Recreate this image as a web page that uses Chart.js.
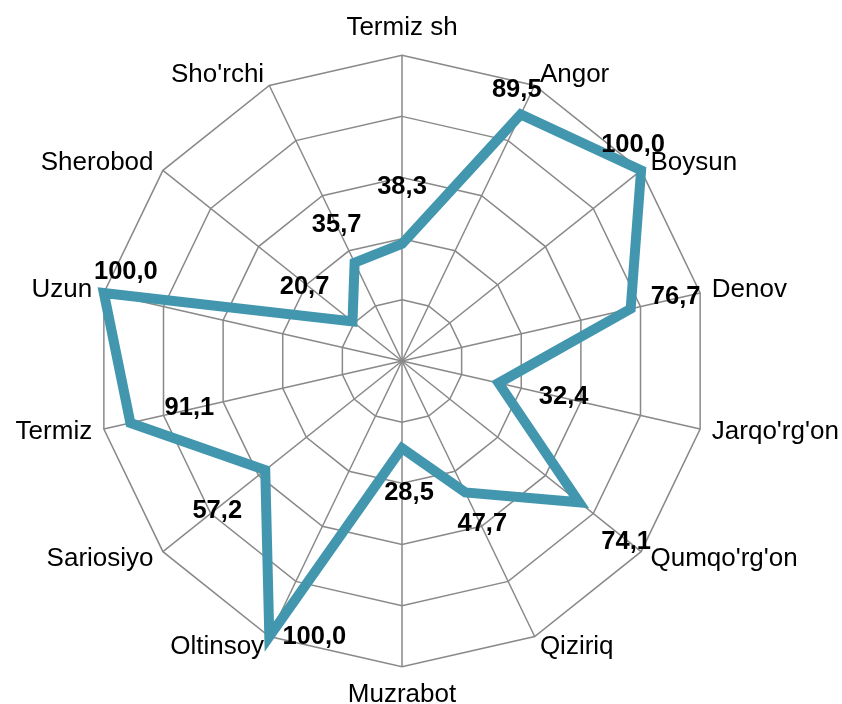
<!DOCTYPE html>
<html>
<head>
<meta charset="utf-8">
<script src="https://cdn.jsdelivr.net/npm/chart.js@4/dist/chart.umd.min.js"></script>
<style>
  html, body { margin: 0; padding: 0; background: #fff; overflow: hidden; }
  #wrap { width: 842px; height: 704px; position: relative; overflow: hidden; }
  /* the web sits left of the middle in the original, so the canvas is a bit wider and shifted */
  #inner { position: absolute; left: -19px; top: 2px; width: 882px; height: 709px; }
</style>
</head>
<body>
<div id="wrap"><div id="inner"><canvas id="myChart"></canvas></div></div>
<script>
// districts, clockwise from the top
const districts = ["Termiz sh", "Angor", "Boysun", "Denov", "Jarqo'rg'on", "Qumqo'rg'on", "Qiziriq",
    "Muzrabot", "Oltinsoy", "Sariosiyo", "Termiz", "Uzun", "Sherobod", "Sho'rchi"];
const scores = [38.3, 89.5, 100.0, 76.7, 32.4, 74.1, 47.7, 28.5, 100.0, 57.2, 91.1, 100.0, 20.7, 35.7];
const gridSteps = [0, 20, 40, 60, 80, 100];

// where each value label sits relative to its point (px)
const labelShift = [[0, -57], [-4, -24], [-8, -25], [45, -12], [65, 14], [47, 40], [17, 32],
    [7, 45], [45, 0], [-48, 41], [59, -15], [22, -21], [-48, -35], [-18, -38]];

const FONT = "'Liberation Sans', Arial, sans-serif";
Chart.defaults.font.family = FONT;
Chart.defaults.color = '#000';

// value labels drawn next to the points
const valueLabels = {
    id: 'valueLabels',
    afterDatasetsDraw(chart) {
        const ctx = chart.ctx;
        const meta = chart.getDatasetMeta(0);
        ctx.save();
        ctx.font = 'bold 25.5px ' + FONT;
        ctx.fillStyle = '#000';
        ctx.textAlign = 'center';
        ctx.textBaseline = 'middle';
        meta.data.forEach(function (pt, i) {
            const txt = scores[i].toFixed(1).replace('.', ',');
            ctx.fillText(txt, pt.x + labelShift[i][0], pt.y + labelShift[i][1]);
        });
        ctx.restore();
    }
};

// category names: centred on the spoke ends like Excel does it
// (chart.js' own labels stay invisible, they only reserve the room)
const spokeLabels = {
    id: 'spokeLabels',
    afterDraw(chart) {
        const scale = chart.scales.r;
        const ctx = chart.ctx;
        const pad = 12;
        ctx.save();
        ctx.font = '26px ' + FONT;
        ctx.fillStyle = '#000';
        ctx.textBaseline = 'middle';
        districts.forEach(function (name, i) {
            const a = scale.getIndexAngle(i);
            const end = scale.getPointPosition(i, scale.drawingArea);
            const s = Math.sin(a), c = Math.cos(a);
            let x = end.x + pad * s;
            let y = end.y - pad * c;
            if (Math.abs(s) < 0.01) {
                ctx.textAlign = 'center';
                y = end.y - (pad + 15.6) * Math.sign(c);
            } else {
                ctx.textAlign = s > 0 ? 'left' : 'right';
            }
            ctx.fillText(name, x, y);
        });
        ctx.restore();
    }
};

const config = {
    type: 'radar',
    data: {
        labels: districts,
        datasets: [{
            data: scores,
            borderColor: '#4297AF',
            backgroundColor: 'rgba(0,0,0,0)',
            borderWidth: 10,
            borderJoinStyle: 'miter',
            pointRadius: 0,
            fill: false,
            tension: 0
        }]
    },
    options: {
        responsive: true,
        maintainAspectRatio: false,
        animation: false,
        layout: {
            padding: { top: 11, bottom: 0, left: 0, right: 0 }
        },
        plugins: {
            legend: { display: false },
            tooltip: { enabled: false }
        },
        scales: {
            r: {
                min: gridSteps[0],
                max: gridSteps[gridSteps.length - 1],
                ticks: { display: false, stepSize: gridSteps[1] - gridSteps[0] },
                grid: { color: '#898989', lineWidth: 1.5 },
                angleLines: { color: '#898989', lineWidth: 1.5 },
                pointLabels: {
                    color: 'rgba(0,0,0,0)',
                    padding: 12,
                    font: { size: 26 }
                }
            }
        }
    },
    plugins: [valueLabels, spokeLabels]
};

window.myChart = new Chart(document.getElementById('myChart'), config);
</script>
</body>
</html>
